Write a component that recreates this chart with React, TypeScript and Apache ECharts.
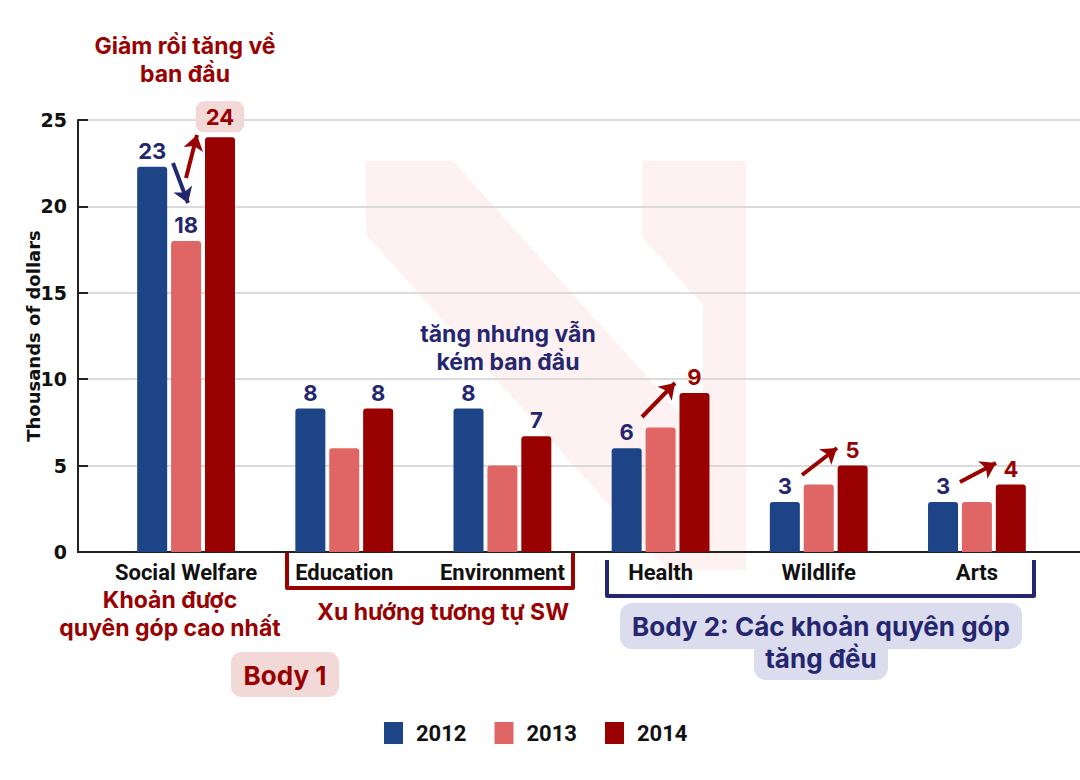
import React, { useEffect, useRef } from 'react';
import * as echarts from 'echarts';

const categories = ['Social Welfare', 'Education', 'Environment', 'Health', 'Wildlife', 'Arts'];
const years = ['2012', '2013', '2014'];

const values2012 = [22.3, 8.3, 8.3, 6.0, 2.9, 2.9];
const values2013 = [18.0, 6.0, 5.0, 7.2, 3.9, 2.9];
const values2014 = [24.0, 8.3, 6.7, 9.2, 5.0, 3.9];

const labels2012 = ['23', '8', '8', '6', '3', '3'];
const labels2013 = ['18', '', '', '', '', ''];
const labels2014 = ['24', '8', '7', '9', '5', '4'];

const yTicks = [0, 5, 10, 15, 20, 25];

const NAVY = '#1d4486';
const SALMON = '#e06666';
const DARK_RED = '#990000';
const TEXT_NAVY = '#24266f';
const PINK_BOX = '#f3d8d8';
const LAVENDER = '#dcdcef';

const labelColors2014 = [DARK_RED, TEXT_NAVY, TEXT_NAVY, DARK_RED, DARK_RED, DARK_RED];

const numFont = { fontFamily: 'Inter', fontWeight: 'bold' as const, fontSize: 22 };

const makeData = (values: number[], labels: string[], colors: string[]) =>
  values.map((v, i) => ({
    value: v,
    label: {
      show: labels[i] !== '',
      formatter: labels[i],
      color: colors[i],
      ...numFont,
    },
  }));

// y is the centre of the first line
const annoText = (text: string, x: number, y: number, color: string, size = 23, lh = 28) => ({
  type: 'text',
  x,
  y: y - lh / 2,
  z: 10,
  style: {
    text,
    fill: color,
    fontFamily: 'Inter',
    fontWeight: 'bold',
    fontSize: size,
    lineHeight: lh,
    textAlign: 'center',
    textVerticalAlign: 'top',
  },
});

const arrow = (x1: number, y1: number, x2: number, y2: number) => [
  { x: x1, y: y1 },
  { x: x2, y: y2 },
];

const App: React.FC = () => {
  const chartRef = useRef<HTMLDivElement | null>(null);

  useEffect(() => {
    if (!chartRef.current) return;
    const chart = echarts.init(chartRef.current, undefined, { renderer: 'svg' });

    const markLineBase = {
      silent: true,
      symbol: ['none', 'arrow'],
      symbolSize: [15, 15],
      label: { show: false },
      emphasis: { disabled: true },
    };

    chart.setOption({
      animation: false,
      backgroundColor: '#ffffff',
      grid: [
        { left: 78, right: 0, top: 120, bottom: 228 },
        { left: 107, right: 24, top: 120, bottom: 228 },
      ],
      legend: {
        data: years,
        left: 379,
        top: 717,
        itemWidth: 19,
        itemHeight: 22,
        itemGap: 28,
        icon: 'rect',
        textStyle: {
          fontFamily: 'Roboto',
          fontWeight: 'bold',
          fontSize: 22,
          color: '#111',
          padding: [0, 0, 0, 8],
        },
      },
      xAxis: [
        {
          type: 'category',
          gridIndex: 0,
          data: [''],
          axisLine: { show: true, lineStyle: { color: '#222', width: 2 } },
          axisTick: { show: false },
          axisLabel: { show: false },
        },
        {
          type: 'category',
          gridIndex: 1,
          data: categories,
          axisLine: { show: false },
          axisTick: { show: false },
          axisLabel: {
            margin: 9,
            color: '#111',
            fontFamily: 'Roboto',
            fontWeight: 'bold',
            fontSize: 22,
            interval: 0,
          },
        },
      ],
      yAxis: [
        {
          type: 'value',
          gridIndex: 0,
          min: yTicks[0],
          max: yTicks[yTicks.length - 1],
          interval: 5,
          name: 'Thousands of dollars',
          nameLocation: 'middle',
          nameGap: 36,
          nameMoveOverlap: false,
          nameTextStyle: {
            fontFamily: 'DejaVu Sans',
            fontWeight: 'bold',
            fontSize: 18,
            color: '#111',
          },
          axisLine: { show: true, lineStyle: { color: '#222', width: 2 } },
          axisTick: { show: true, inside: true, length: 10, lineStyle: { color: '#222', width: 2 } },
          axisLabel: {
            margin: 11,
            color: '#111',
            fontFamily: 'DejaVu Sans',
            fontWeight: 'bold',
            fontSize: 19,
          },
          splitLine: { show: true, lineStyle: { color: '#cfcfcf', width: 1.5 } },
        },
        {
          type: 'value',
          gridIndex: 1,
          min: yTicks[0],
          max: yTicks[yTicks.length - 1],
          show: false,
          splitLine: { show: false },
        },
      ],
      series: [
        {
          name: years[0],
          type: 'bar',
          xAxisIndex: 1,
          yAxisIndex: 1,
          barWidth: 30,
          barGap: '13%',
          itemStyle: { color: NAVY, borderRadius: [3, 3, 0, 0] },
          label: { position: 'top', distance: 5 },
          data: makeData(values2012, labels2012, labels2012.map(() => TEXT_NAVY)),
          markLine: {
            ...markLineBase,
            lineStyle: { color: TEXT_NAVY, width: 4, type: 'solid' },
            data: [arrow(173, 163, 188, 203)],
          },
        },
        {
          name: years[1],
          type: 'bar',
          xAxisIndex: 1,
          yAxisIndex: 1,
          barWidth: 30,
          barGap: '13%',
          itemStyle: { color: SALMON, borderRadius: [3, 3, 0, 0] },
          label: { position: 'top', distance: 5 },
          data: makeData(values2013, labels2013, labels2013.map(() => TEXT_NAVY)),
        },
        {
          name: years[2],
          type: 'bar',
          xAxisIndex: 1,
          yAxisIndex: 1,
          barWidth: 30,
          barGap: '13%',
          itemStyle: { color: DARK_RED, borderRadius: [3, 3, 0, 0] },
          label: { position: 'top', distance: 5 },
          data: makeData(values2014, labels2014, labelColors2014).map((d, i) =>
            i === 0
              ? {
                  ...d,
                  label: {
                    ...d.label,
                    distance: 5,
                    backgroundColor: PINK_BOX,
                    borderRadius: 8,
                    padding: [5, 10, 4, 10],
                  },
                }
              : d
          ),
          markLine: {
            ...markLineBase,
            lineStyle: { color: DARK_RED, width: 4, type: 'solid' },
            data: [
              arrow(186, 178, 197, 135),
              arrow(642, 417, 675, 383),
              arrow(802, 475, 837, 448),
              arrow(960, 482, 996, 463),
            ],
          },
        },
      ],
      graphic: [
        // faint watermark behind the plot
        {
          type: 'polygon',
          z: -10,
          silent: true,
          shape: {
            points: [
              [366, 161], [453, 161], [703, 439], [703, 570], [668, 570], [366, 235],
            ],
          },
          style: { fill: '#fdf1f2' },
        },
        {
          type: 'polygon',
          z: -10,
          silent: true,
          shape: {
            points: [
              [642, 161], [746, 161], [746, 570], [703, 570], [703, 305], [642, 237],
            ],
          },
          style: { fill: '#fdf1f2' },
        },
        // brackets
        {
          type: 'polyline',
          z: 5,
          shape: { points: [[287, 553], [287, 588], [573, 588], [573, 553]] },
          style: { stroke: DARK_RED, lineWidth: 4, lineJoin: 'round', fill: 'none' },
        },
        {
          type: 'polyline',
          z: 5,
          shape: { points: [[607, 560], [607, 596], [1034, 596], [1034, 560]] },
          style: { stroke: TEXT_NAVY, lineWidth: 4, lineJoin: 'round', fill: 'none' },
        },
        // boxes
        {
          type: 'rect',
          z: 5,
          shape: { x: 231, y: 652, width: 108, height: 45, r: 10 },
          style: { fill: PINK_BOX },
        },
        {
          type: 'rect',
          z: 5,
          shape: { x: 620, y: 603, width: 402, height: 46, r: 12 },
          style: { fill: LAVENDER },
        },
        {
          type: 'rect',
          z: 5,
          shape: { x: 754, y: 640, width: 134, height: 40, r: 12 },
          style: { fill: LAVENDER },
        },
        annoText('Giảm rồi tăng về\nban đầu', 185, 46, DARK_RED),
        annoText('Khoản được\nquyên góp cao nhất', 170, 600, DARK_RED),
        annoText('Xu hướng tương tự SW', 443, 612, DARK_RED),
        annoText('tăng nhưng vẫn\nkém ban đầu', 508, 334, TEXT_NAVY),
        annoText('Body 1', 285, 675, DARK_RED, 26, 31),
        annoText('Body 2: Các khoản quyên góp\ntăng đều', 821, 626, TEXT_NAVY, 26, 32),
      ],
    });

    const resizeHandler = () => chart.resize();
    window.addEventListener('resize', resizeHandler);
    return () => {
      window.removeEventListener('resize', resizeHandler);
      chart.dispose();
    };
  }, []);

  return (
    <div
      ref={chartRef}
      style={{ position: 'fixed', left: 0, top: 0, width: '1080px', height: '780px' }}
    />
  );
};

export default App;
